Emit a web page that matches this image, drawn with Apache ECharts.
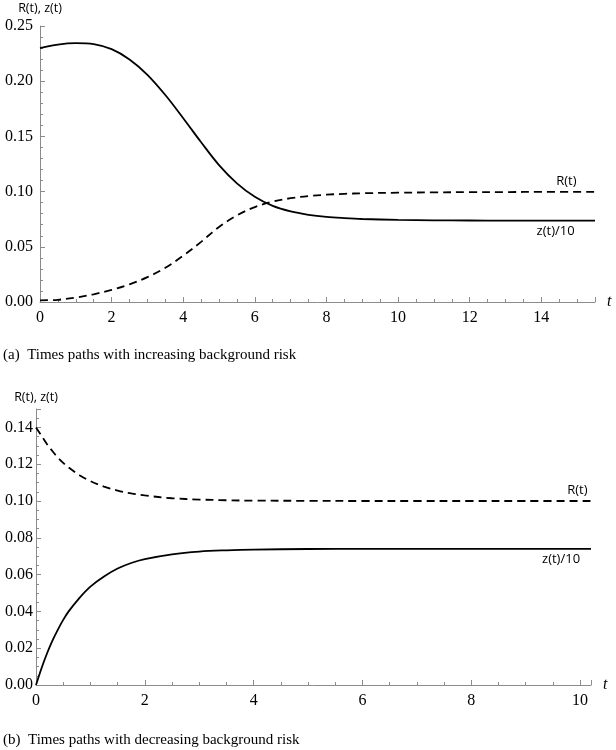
<!DOCTYPE html>
<html><head><meta charset="utf-8">
<script src="https://cdn.jsdelivr.net/npm/echarts@6/dist/echarts.min.js"></script>
<style>html,body{margin:0;padding:0;background:#fff}#c{width:616px;height:750px}</style>
</head><body><div id="c"></div>
<script>
// Panel (a): increasing background risk
const tA = [0, 0.5, 1, 1.5, 2, 2.5, 3, 3.5, 4, 4.5, 5, 5.5, 6, 6.5, 7, 7.5, 8, 8.5, 9, 10, 11, 12, 13, 14, 15.5];
const zA = [0.230, 0.2332, 0.2345, 0.2336, 0.2290, 0.2197, 0.2058, 0.1875, 0.1665, 0.1447, 0.1240, 0.1075, 0.0953, 0.0870, 0.0820, 0.0790, 0.0771, 0.0760, 0.0752, 0.0744, 0.0740, 0.0738, 0.0737, 0.0737, 0.0737];
const rA = [0.0015, 0.0020, 0.0040, 0.0070, 0.0110, 0.0160, 0.0225, 0.0310, 0.0420, 0.0545, 0.0680, 0.0785, 0.0860, 0.0910, 0.0940, 0.0960, 0.0972, 0.0980, 0.0985, 0.0990, 0.0993, 0.0995, 0.0996, 0.0997, 0.0997];
// Panel (b): decreasing background risk
const tB = [0, 0.1, 0.2, 0.3, 0.4, 0.5, 0.6, 0.8, 1, 1.25, 1.5, 1.75, 2, 2.5, 3, 3.5, 4, 5, 6, 7, 8, 9, 10.2];
const zB = [0, 0.0090, 0.0170, 0.0240, 0.0300, 0.0354, 0.0400, 0.0474, 0.0535, 0.0590, 0.0633, 0.0663, 0.0684, 0.0710, 0.0725, 0.0732, 0.0736, 0.0739, 0.0740, 0.0740, 0.0740, 0.0740, 0.0740];
const rB = [0.140, 0.1355, 0.1310, 0.1272, 0.1237, 0.1207, 0.1182, 0.1140, 0.1108, 0.1078, 0.1057, 0.1041, 0.1030, 0.1015, 0.1008, 0.1004, 0.1002, 0.1001, 0.1000, 0.1000, 0.1000, 0.1000, 0.1000];
const xTicksA = [0, 2, 4, 6, 8, 10, 12, 14];
const yTicksA = [0.00, 0.05, 0.10, 0.15, 0.20, 0.25];
const xTicksB = [0, 2, 4, 6, 8, 10];
const yTicksB = [0.00, 0.02, 0.04, 0.06, 0.08, 0.10, 0.12, 0.14];
const captionA = '(a)  Times paths with increasing background risk';
const captionB = '(b)  Times paths with decreasing background risk';
const yName = 'R(t), z(t)';
const xName = 't';
const labelR = 'R(t)';
const labelZ = 'z(t)/10';

const zip = (a, b) => a.map((v, i) => [v, b[i]]);
const serif = '"Liberation Serif", "DejaVu Serif", serif';
const sans = '"Open Sans", "Noto Sans", sans-serif';
const axisGray = '#8c8c8c';

function inList(list) {
  return v => list.some(x => Math.abs(x - v) < 1e-9);
}
function xAxisCfg(idx, max, ticks) {
  const ok = inList(ticks);
  return {
    type: 'value', gridIndex: idx, min: 0, max: max, interval: 2,
    name: xName, nameLocation: 'end', nameGap: 12,
    nameTextStyle: { fontFamily: serif, fontStyle: 'italic', fontSize: 16, color: '#000', verticalAlign: 'middle' },
    axisLine: { show: true, onZero: false, lineStyle: { color: axisGray, width: 1 } },
    axisTick: { show: true, inside: true, length: 5, lineStyle: { color: axisGray } },
    minorTick: { show: true, splitNumber: 4, length: 3, lineStyle: { color: axisGray } },
    splitLine: { show: false },
    axisLabel: { fontFamily: serif, fontSize: 16, color: '#000', margin: 8,
      formatter: v => ok(v) ? String(Math.round(v)) : '' }
  };
}
function yAxisCfg(idx, max, interval, minorSplit, ticks, margin, nameGap) {
  const ok = inList(ticks);
  return {
    type: 'value', gridIndex: idx, min: 0, max: max, interval: interval,
    name: yName, nameLocation: 'end', nameGap: nameGap,
    nameTextStyle: { fontFamily: sans, fontSize: 12.5, color: '#000', align: 'center' },
    axisLine: { show: true, onZero: false, lineStyle: { color: axisGray, width: 1 } },
    axisTick: { show: true, inside: true, length: 5, lineStyle: { color: axisGray } },
    minorTick: { show: true, splitNumber: minorSplit, length: 3, lineStyle: { color: axisGray } },
    splitLine: { show: false },
    axisLabel: { fontFamily: serif, fontSize: 16, color: '#000', margin: margin,
      formatter: v => ok(v) ? v.toFixed(2) : '' }
  };
}
function lineSeries(idx, data, dashed, label, labelT, labelV, above) {
  return {
    type: 'line', xAxisIndex: idx, yAxisIndex: idx, data: data,
    smooth: 0.35, showSymbol: false, symbol: 'none', silent: true,
    lineStyle: { color: '#000', width: 1.8, type: dashed ? [8, 5] : 'solid' },
    markPoint: {
      symbol: 'circle', symbolSize: 0, silent: true,
      label: { show: true, formatter: label, fontFamily: sans, fontSize: 13, color: '#000',
        position: above ? 'top' : 'bottom', distance: 4 },
      data: [{ coord: [labelT, labelV] }]
    }
  };
}

const chart = echarts.init(document.getElementById('c'), null, { renderer: 'canvas' });
chart.setOption({
  animation: false,
  backgroundColor: '#fff',
  grid: [
    { left: 40, top: 26, right: 21, height: 276 },
    { left: 36, top: 409, right: 25, height: 276 }
  ],
  xAxis: [xAxisCfg(0, 15.5, xTicksA), xAxisCfg(1, 10.2, xTicksB)],
  yAxis: [yAxisCfg(0, 0.25, 0.05, 5, yTicksA, 7, 11), yAxisCfg(1, 0.15, 0.02, 4, yTicksB, 3, 5)],
  series: [
    lineSeries(0, zip(tA, zA), false, labelZ, 14.4, 0.0737, false),
    lineSeries(0, zip(tA, rA), true, labelR, 14.7, 0.0997, true),
    lineSeries(1, zip(tB, zB), false, labelZ, 9.65, 0.0740, false),
    lineSeries(1, zip(tB, rB), true, labelR, 9.95, 0.1000, true)
  ],
  graphic: [
    { type: 'text', left: 3, top: 348, style: { text: captionA, font: '15px ' + serif, fill: '#000' } },
    { type: 'text', left: 3, top: 733, style: { text: captionB, font: '15px ' + serif, fill: '#000' } }
  ]
});
</script>
</body></html>
